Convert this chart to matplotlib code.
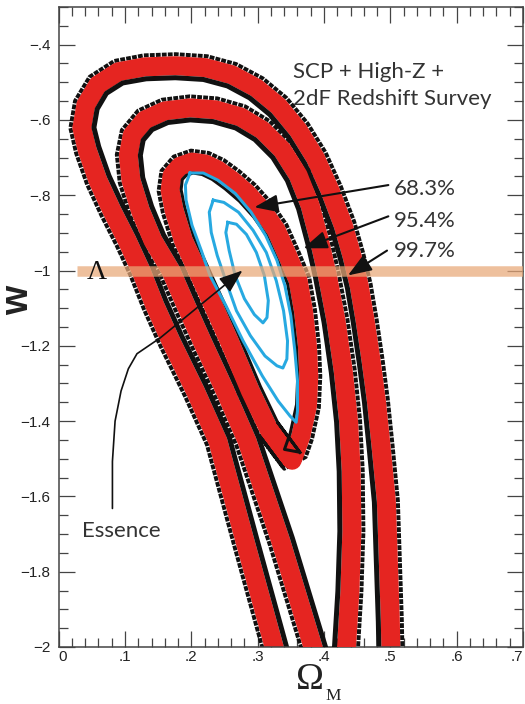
import numpy as np
import matplotlib.pyplot as plt
from matplotlib.path import Path
from matplotlib.patches import FancyArrowPatch
from matplotlib.ticker import MultipleLocator

# confidence contours (Omega_M, w), traced clockwise
c997_om = [0.329, 0.281, 0.240, 0.206, 0.169, 0.145, 0.124, 0.103, 0.080, 0.059, 0.043,
           0.035, 0.041, 0.059, 0.090, 0.130, 0.176, 0.221, 0.261, 0.298, 0.331, 0.361,
           0.387, 0.409, 0.429, 0.442, 0.453, 0.462, 0.471, 0.479, 0.486, 0.494, 0.497, 0.500, 0.501]
c997_w = [-2.027, -1.720, -1.453, -1.320, -1.187, -1.093, -1.000, -0.920, -0.840, -0.760, -0.680,
          -0.621, -0.560, -0.507, -0.472, -0.459, -0.456, -0.461, -0.480, -0.515, -0.563, -0.627,
          -0.701, -0.787, -0.880, -0.960, -1.040, -1.133, -1.240, -1.347, -1.467, -1.613, -1.773,
          -1.933, -2.027]

c954_om = [0.388, 0.335, 0.284, 0.251, 0.216, 0.192, 0.169, 0.142, 0.123, 0.109, 0.105,
           0.111, 0.130, 0.160, 0.198, 0.236, 0.274, 0.307, 0.337, 0.361, 0.379, 0.393,
           0.405, 0.418, 0.429, 0.437, 0.441, 0.442, 0.439, 0.433]
c954_w = [-2.027, -1.720, -1.453, -1.320, -1.187, -1.093, -1.000, -0.920, -0.840, -0.760, -0.693,
          -0.640, -0.600, -0.576, -0.568, -0.573, -0.592, -0.627, -0.680, -0.747, -0.827, -0.920,
          -1.013, -1.133, -1.267, -1.400, -1.533, -1.693, -1.853, -2.027]

c683_om = [0.352, 0.316, 0.289, 0.257, 0.233, 0.209, 0.188, 0.174, 0.168, 0.171, 0.183,
           0.201, 0.221, 0.240, 0.261, 0.284, 0.307, 0.328, 0.345, 0.361, 0.369, 0.375,
           0.377, 0.375, 0.365, 0.356, 0.352, 0.316]
c683_w = [-1.504, -1.419, -1.320, -1.187, -1.093, -1.000, -0.920, -0.840, -0.787, -0.747, -0.723,
          -0.712, -0.717, -0.733, -0.760, -0.795, -0.840, -0.893, -0.960, -1.027, -1.107, -1.200,
          -1.280, -1.360, -1.440, -1.485, -1.504, -1.419]

# blue likelihood contours
b1_om = [0.198, 0.191, 0.192, 0.201, 0.215, 0.228, 0.252, 0.278, 0.307, 0.331, 0.349, 0.358,
         0.360, 0.360, 0.356, 0.350, 0.341, 0.329, 0.312, 0.290, 0.266, 0.240, 0.218, 0.198]
b1_w = [-0.741, -0.773, -0.813, -0.880, -0.947, -1.013, -1.093, -1.187, -1.280, -1.347, -1.387, -1.403,
        -1.373, -1.293, -1.213, -1.120, -1.040, -0.973, -0.907, -0.845, -0.795, -0.760, -0.741, -0.741]
b2_om = [0.233, 0.227, 0.230, 0.239, 0.252, 0.268, 0.289, 0.311, 0.329, 0.338, 0.344, 0.345,
         0.339, 0.328, 0.313, 0.293, 0.271, 0.249, 0.233]
b2_w = [-0.813, -0.845, -0.899, -0.960, -1.027, -1.107, -1.173, -1.227, -1.253, -1.259, -1.235, -1.187,
        -1.107, -1.027, -0.952, -0.893, -0.845, -0.819, -0.813]
b3_om = [0.255, 0.252, 0.257, 0.266, 0.280, 0.295, 0.308, 0.314, 0.316, 0.310, 0.298, 0.283, 0.268, 0.255]
b3_w = [-0.872, -0.899, -0.947, -1.013, -1.075, -1.117, -1.139, -1.125, -1.080, -1.013, -0.952, -0.904,
        -0.877, -0.872]

LAMBDA_W = -1.0
levels = ['68.3%', '95.4%', '99.7%']
level_w = [-0.800, -0.885, -0.965]
# arrow tails and tips for the level labels
lev_tail_om = [0.497, 0.497, 0.495]
lev_tail_w = [-0.773, -0.856, -0.947]
lev_tip_om = [0.295, 0.369, 0.436]
lev_tip_w = [-0.832, -0.941, -1.013]

# curved pointer from the "Essence" label
ess_om = [0.081, 0.081, 0.085, 0.094, 0.105, 0.118, 0.153, 0.277]
ess_w = [-1.632, -1.507, -1.400, -1.320, -1.261, -1.221, -1.179, -1.000]

x_ticks = [0, 0.1, 0.2, 0.3, 0.4, 0.5, 0.6, 0.7]
x_labels = ['0', '.1', '.2', '.3', '.4', '.5', '.6', '.7']
y_ticks = [-2, -1.8, -1.6, -1.4, -1.2, -1, -0.8, -0.6, -0.4]
y_labels = ['\u22122', '\u22121.8', '\u22121.6', '\u22121.4', '\u22121.2', '\u22121',
            '\u2212.8', '\u2212.6', '\u2212.4']

RED = '#e52521'
BLUE = '#27a9e1'
INK = '#111111'
TXT = '#333333'
PT = 0.72  # points per pixel at 100 dpi

fig = plt.figure(figsize=(5.25, 7.04), dpi=100)
ax = fig.add_axes([58.7 / 525, 57 / 704, 464.3 / 525, 640 / 704])
ax.set_xlim(0, 0.7)
ax.set_ylim(-2, -0.3)


def edge(om, w, d):
    # shift a line sideways by d pixels (positive = left of travel)
    pts = ax.transData.transform(np.column_stack([om, w]))
    t = np.gradient(pts, axis=0)
    t /= np.hypot(t[:, 0], t[:, 1])[:, None]
    n = np.column_stack([-t[:, 1], t[:, 0]])
    return ax.transData.inverted().transform(pts + d * n).T


def band(om, w, z, inner=5):
    half = 9.5
    xo, yo = edge(om, w, half + 2)
    ax.plot(xo, yo, color=INK, lw=4 * PT, dashes=(1.2, 0.3), dash_capstyle='butt', zorder=z)
    ax.plot(om, w, color=RED, lw=2 * half * PT, solid_capstyle='butt', solid_joinstyle='round',
            zorder=z + 0.1)
    xi, yi = edge(om, w, -(half + inner / 2))
    ax.plot(xi, yi, color=INK, lw=inner * PT, solid_capstyle='butt', zorder=z + 0.2)


band(c997_om, c997_w, 2)
band(c954_om, c954_w, 3)
band(c683_om, c683_w, 4, inner=3)

for om, w in [(b1_om, b1_w), (b2_om, b2_w), (b3_om, b3_w)]:
    ax.plot(om, w, color=BLUE, lw=3 * PT, zorder=5)

# cosmological constant
ax.plot([0.028, 0.7], [LAMBDA_W, LAMBDA_W], color='#e8a878', alpha=0.72, lw=10.5 * PT,
        solid_capstyle='butt', zorder=6)
ax.text(0.057, LAMBDA_W - 0.004, '\u039b', family='Liberation Serif', fontsize=20,
        ha='center', va='center', color=INK, zorder=7)

font = dict(family='Lato', fontsize=16, color=TXT)
ax.text(0.3534, -0.488, 'SCP + High-Z +', **font)
ax.text(0.3534, -0.560, '2dF Redshift Survey', **font)

head = '-|>,head_length=0.8,head_width=0.3'
for lab, lw_, t_om, t_w, h_om, h_w in zip(levels, level_w, lev_tail_om, lev_tail_w, lev_tip_om, lev_tip_w):
    ax.text(0.5047, lw_, lab, **font)
    ax.add_patch(FancyArrowPatch((t_om, t_w), (h_om, h_w), arrowstyle=head,
                                 mutation_scale=18, color=INK, lw=1.5, shrinkA=0, shrinkB=0, zorder=8))

ax.text(0.0352, -1.7067, 'Essence', **font)
verts = list(zip(ess_om, ess_w))
ess_path = Path(verts, [Path.MOVETO] + [Path.LINETO] * (len(verts) - 1))
ax.add_patch(FancyArrowPatch(path=ess_path, arrowstyle=head, mutation_scale=18,
                             color=INK, lw=1.2, zorder=8))

ax.set_xticks(x_ticks)
ax.set_xticklabels(x_labels)
ax.set_yticks(y_ticks)
ax.set_yticklabels(y_labels)
ax.xaxis.set_minor_locator(MultipleLocator(0.02))
ax.yaxis.set_minor_locator(MultipleLocator(0.05))
ax.tick_params(which='both', direction='in', top=True, right=True, color='#444', width=0.9)
ax.tick_params(which='major', length=11.5)
ax.tick_params(which='minor', length=6.5)
ax.tick_params(axis='x', pad=2)
ax.tick_params(axis='y', pad=6)
for lab in ax.get_xticklabels() + ax.get_yticklabels():
    lab.set_family(['Liberation Sans', 'DejaVu Sans'])
    lab.set_fontsize(11)
    lab.set_color('#222')
ax.get_xticklabels()[0].set_horizontalalignment('left')
ax.get_xticklabels()[-1].set_horizontalalignment('right')
for sp in ax.spines.values():
    sp.set_color('#444')
    sp.set_linewidth(1.1)

fig.text(18 / 525, 1 - 300 / 704, 'w', rotation=90, ha='center', va='center',
         fontsize=27, fontweight='bold', family='Liberation Sans', color='#222')
fig.text(310 / 525, 1 - 680 / 704, '\u03a9', ha='center', va='center',
         fontsize=27, family='Liberation Serif', color='#222')
fig.text(333.5 / 525, 1 - 696 / 704, 'M', ha='center', va='center',
         fontsize=12.5, family='Liberation Serif', color='#222')

fig.savefig('out.png', dpi=100)
